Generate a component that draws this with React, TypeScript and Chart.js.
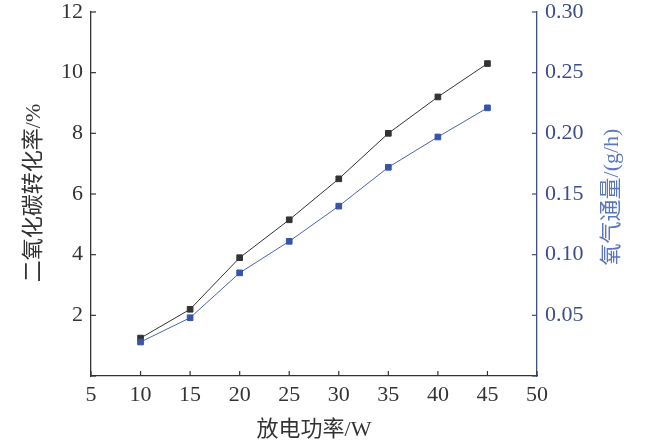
import React, { useEffect, useRef } from 'react';
import { Chart, registerables } from 'chart.js';

Chart.register(...registerables);

const powerW = [10, 15, 20, 25, 30, 35, 40, 45];
const co2Conversion = [1.25, 2.2, 3.9, 5.15, 6.5, 8.0, 9.2, 10.3];
const oxygenFlux = [0.028, 0.048, 0.085, 0.111, 0.14, 0.172, 0.197, 0.221];

const xTitle = '放电功率/W';
const leftTitle = '二氧化碳转化率/%';
const rightTitle = '氧气通量/(g/h)';

const FONT = "'Liberation Serif', 'Times New Roman', 'Noto Sans CJK SC', serif";
const DARK = '#333333';
const BLUE_AXIS = '#3c4d8a';
const BLUE_TITLE = '#5b77bd';

// draws short inward tick marks and the three axis titles
const axisDecor = {
  id: 'axisDecor',
  afterDraw(chart: any) {
    const { ctx, chartArea, scales } = chart;
    const len = 5;
    ctx.save();
    ctx.lineWidth = 1.2;

    ctx.strokeStyle = DARK;
    scales.x.ticks.forEach((t: any) => {
      const px = scales.x.getPixelForValue(t.value);
      ctx.beginPath();
      ctx.moveTo(px, chartArea.bottom);
      ctx.lineTo(px, chartArea.bottom - len);
      ctx.stroke();
    });
    scales.y.ticks.forEach((t: any) => {
      const py = scales.y.getPixelForValue(t.value);
      ctx.beginPath();
      ctx.moveTo(chartArea.left, py);
      ctx.lineTo(chartArea.left + len, py);
      ctx.stroke();
    });
    ctx.strokeStyle = BLUE_AXIS;
    scales.y1.ticks.forEach((t: any) => {
      const py = scales.y1.getPixelForValue(t.value);
      ctx.beginPath();
      ctx.moveTo(chartArea.right, py);
      ctx.lineTo(chartArea.right - len, py);
      ctx.stroke();
    });

    ctx.font = `22px ${FONT}`;
    ctx.textAlign = 'center';
    ctx.textBaseline = 'middle';

    ctx.fillStyle = DARK;
    ctx.fillText(xTitle, (chartArea.left + chartArea.right) / 2, 430);

    ctx.save();
    ctx.translate(34, 193);
    ctx.rotate(-Math.PI / 2);
    ctx.fillText(leftTitle, 0, 0);
    ctx.restore();

    ctx.fillStyle = BLUE_TITLE;
    ctx.save();
    ctx.translate(612, 197);
    ctx.rotate(-Math.PI / 2);
    ctx.fillText(rightTitle, 0, 0);
    ctx.restore();

    ctx.restore();
  },
};

// fixed axis sizes so the plot area lands where the original has it
const fixSize = (w: number | null, h: number | null) => (scale: any) => {
  if (w !== null) scale.width = w;
  if (h !== null) scale.height = h;
  scale.paddingTop = 0;
  scale.paddingBottom = 0;
  scale.paddingLeft = 0;
  scale.paddingRight = 0;
};

export default function App() {
  const canvasRef = useRef<HTMLCanvasElement>(null);

  useEffect(() => {
    if (!canvasRef.current) return;
    const chart = new Chart(canvasRef.current, {
      type: 'line',
      data: {
        datasets: [
          {
            label: rightTitle,
            data: powerW.map((x, i) => ({ x, y: oxygenFlux[i] })),
            yAxisID: 'y1',
            borderColor: '#4a64b0',
            backgroundColor: '#3654a8',
            borderWidth: 1,
            pointStyle: 'rect',
            pointRadius: 4,
            pointBorderWidth: 1,
            pointBorderColor: '#3654a8',
            tension: 0,
          },
          {
            label: leftTitle,
            data: powerW.map((x, i) => ({ x, y: co2Conversion[i] })),
            yAxisID: 'y',
            borderColor: DARK,
            backgroundColor: DARK,
            borderWidth: 1,
            pointStyle: 'rect',
            pointRadius: 4,
            pointBorderWidth: 1,
            pointBorderColor: DARK,
            tension: 0,
          },
        ],
      },
      options: {
        responsive: false,
        animation: false,
        layout: { padding: { top: 12, left: 0, right: 0, bottom: 0 } },
        plugins: {
          legend: { display: false },
          tooltip: { enabled: false },
        },
        scales: {
          x: {
            type: 'linear',
            min: 5,
            max: 50,
            grid: { drawOnChartArea: false, drawTicks: false },
            border: { display: true, color: DARK, width: 1.3 },
            ticks: {
              stepSize: 5,
              padding: 6,
              color: DARK,
              font: { family: FONT, size: 22 },
              maxRotation: 0,
            },
            afterFit: fixSize(null, 68),
          },
          y: {
            position: 'left',
            min: 0,
            max: 12,
            grid: { drawOnChartArea: false, drawTicks: false },
            border: { display: true, color: DARK, width: 1.3 },
            ticks: {
              stepSize: 2,
              padding: 8,
              color: DARK,
              font: { family: FONT, size: 22 },
              callback: (v: any) => (v === 0 ? '' : String(v)),
            },
            afterFit: fixSize(91, null),
          },
          y1: {
            position: 'right',
            min: 0,
            max: 0.3,
            grid: { drawOnChartArea: false, drawTicks: false },
            border: { display: true, color: BLUE_AXIS, width: 1.3 },
            ticks: {
              stepSize: 0.05,
              padding: 8,
              color: BLUE_AXIS,
              font: { family: FONT, size: 22 },
              callback: (v: any) => (Math.abs(v) < 1e-9 ? '' : Number(v).toFixed(2)),
            },
            afterFit: fixSize(113, null),
          },
        },
      },
      plugins: [axisDecor],
    });
    return () => chart.destroy();
  }, []);

  return (
    <div style={{ position: 'fixed', left: 0, top: 0, width: 650, height: 444, background: '#fff' }}>
      <canvas ref={canvasRef} width={650} height={444} style={{ width: 650, height: 444 }} />
    </div>
  );
}
